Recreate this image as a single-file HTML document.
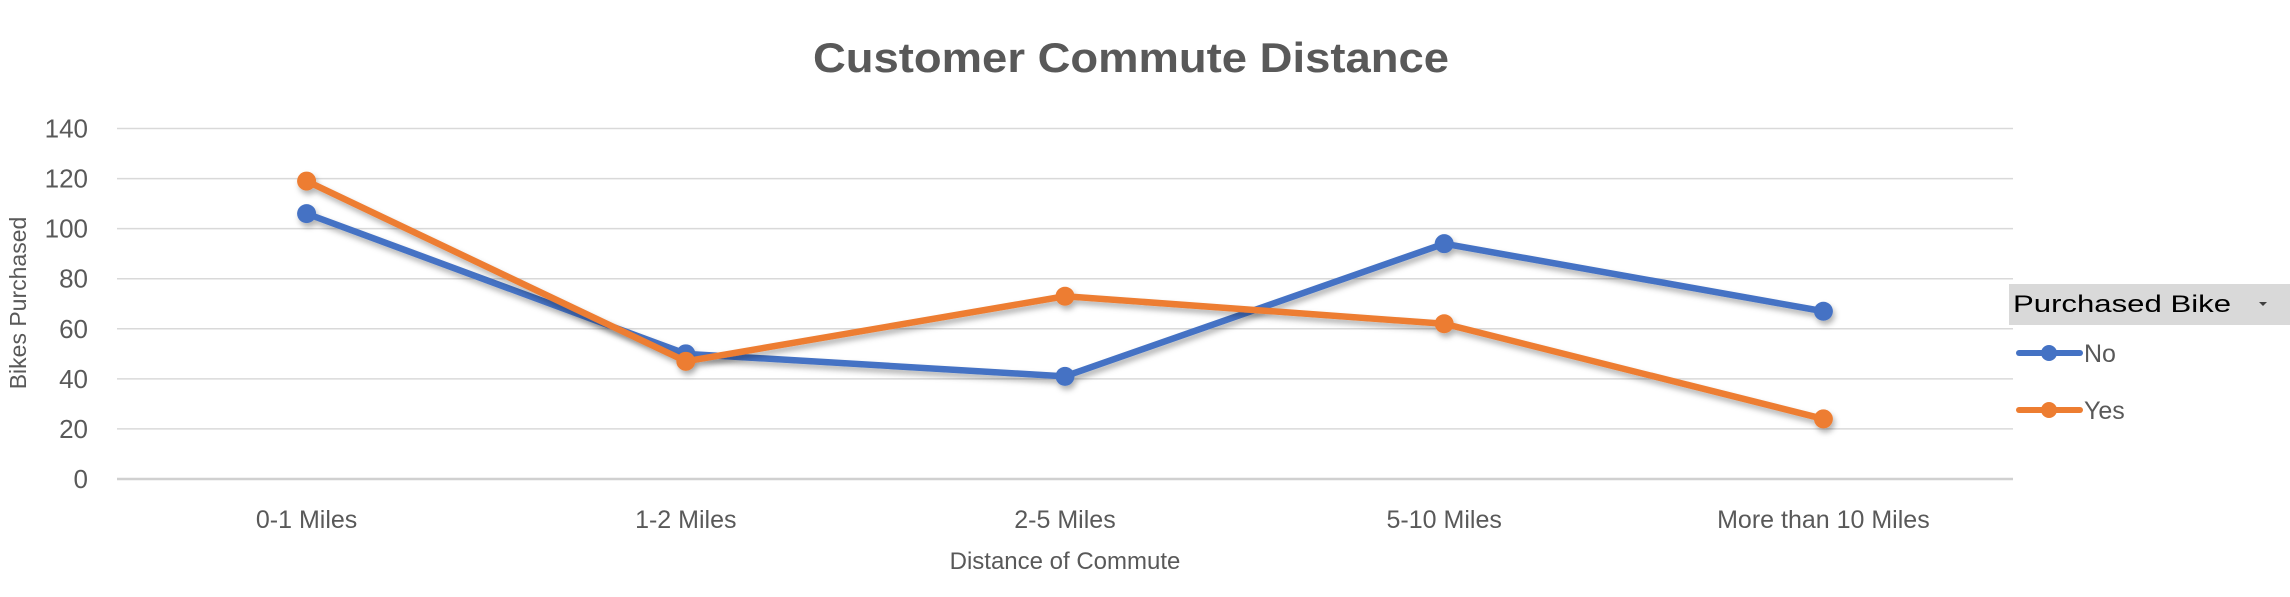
<!DOCTYPE html>
<html><head><meta charset="utf-8"><style>
body{margin:0;background:#fff;width:2290px;height:592px;overflow:hidden;font-family:"Liberation Sans",sans-serif}
</style></head><body>
<svg width="2290" height="592">
<defs><filter id="sh" x="-10%" y="-30%" width="120%" height="160%"><feDropShadow dx="2" dy="4" stdDeviation="3" flood-color="#000" flood-opacity="0.3"/></filter></defs>
<text x="1131" y="72" text-anchor="middle" font-size="42" font-weight="bold" fill="#595959" textLength="636" lengthAdjust="spacingAndGlyphs">Customer Commute Distance</text>
<g id="grid"></g><g id="yt"></g><g id="xt"></g><g id="series"></g>
<text transform="translate(26,303) rotate(-90)" text-anchor="middle" font-size="23" fill="#595959">Bikes Purchased</text>
<text x="1065" y="569" text-anchor="middle" font-size="24" fill="#595959">Distance of Commute</text>
<g>
<rect x="2009" y="284" width="281" height="41" fill="#d9d9d9"/>
<text x="2013" y="312" font-size="24" fill="#000" textLength="218" lengthAdjust="spacingAndGlyphs">Purchased Bike</text>
<path d="M2259 302 l8 0 l-4 4z" fill="#404040"/>
<g><line x1="2019" y1="353" x2="2080" y2="353" stroke="#4472C4" stroke-width="6" stroke-linecap="round"/><circle cx="2049" cy="353" r="8" fill="#4472C4"/><text x="2084" y="362" font-size="25" fill="#595959">No</text></g>
<g><line x1="2019" y1="410" x2="2080" y2="410" stroke="#ED7D31" stroke-width="6" stroke-linecap="round"/><circle cx="2049" cy="410" r="8" fill="#ED7D31"/><text x="2084" y="419" font-size="25" fill="#595959">Yes</text></g>
</g>
</svg>
<script>
const categories=["0-1 Miles","1-2 Miles","2-5 Miles","5-10 Miles","More than 10 Miles"];
const noValues=[106,50,41,94,67];
const yesValues=[119,47,73,62,24];
const yTicks=[0,20,40,60,80,100,120,140];
const NS="http://www.w3.org/2000/svg";
const L=117,R=2013,T=128.5,B=479,yMax=140;
const y=v=>B-(v/yMax)*(B-T);
const bw=(R-L)/categories.length;
const x=i=>L+bw*(i+0.5);
function mk(t,a,p){const e=document.createElementNS(NS,t);for(const k in a)e.setAttribute(k,a[k]);p.appendChild(e);return e;}
const grid=document.getElementById('grid'),yt=document.getElementById('yt'),xt=document.getElementById('xt'),sg=document.getElementById('series');
yTicks.forEach(v=>{
 const g=mk('line',{x1:L,x2:R,y1:y(v),y2:y(v),stroke:v===0?'#d0d0d0':'#d9d9d9','stroke-width':v===0?2.5:1.5},grid);
 
 
 const t=mk('text',{x:88,y:y(v)+9,'text-anchor':'end','font-size':26,fill:'#595959'},yt);t.textContent=v;
 
 
});
categories.forEach((c,i)=>{
 const t=mk('text',{x:x(i),y:528,'text-anchor':'middle','font-size':25,fill:'#595959'},xt);t.textContent=c;
 
 
});
[[noValues,'#4472C4','no'],[yesValues,'#ED7D31','yes']].forEach(([vals,col,n])=>{
 const g=mk('g',{filter:'url(#sh)'},sg);
 
 
 const pl=mk('polyline',{points:vals.map((v,i)=>x(i)+','+y(v)).join(' '),fill:'none',stroke:col,'stroke-width':6.5,'stroke-linejoin':'round','stroke-linecap':'round'},g);
 
 
 vals.forEach((v,i)=>{const c=mk('circle',{cx:x(i),cy:y(v),r:9.5,fill:col},g);
  
  });
});
</script>
</body></html>
